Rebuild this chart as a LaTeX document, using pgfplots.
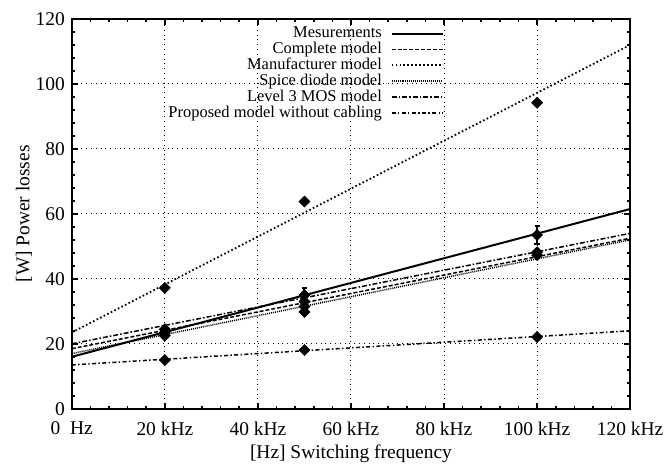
\documentclass[border=0pt]{standalone}
\usepackage{pgfplots}
\pgfplotsset{compat=1.18}
\usepackage{fontspec}
\setmainfont{Liberation Serif}
\begin{document}
\begin{tikzpicture}
\begin{axis}[
    name=ax,
    scale only axis,
    width=280pt, height=195.5pt,
    xmin=0, xmax=120, ymin=0, ymax=120,
    xtick={0,20,40,60,80,100,120},
    xticklabels={0\ \ Hz,20 kHz,40 kHz,60 kHz,80 kHz,100 kHz,120 kHz},
    ytick={0,20,40,60,80,100,120},
    minor x tick num=4, minor y tick num=4,
    tick align=inside,
    major tick length=3pt, minor tick length=1.6pt,
    every tick/.style={black, line width=0.8pt},
    axis line style={line width=1pt},
    xmajorgrids, ymajorgrids,
    grid style={black, dotted, line width=0.5pt},
    /pgf/number format/assume math mode=true,
    tick label style={font=\fontsize{9.75}{11}\selectfont},
    xticklabel style={yshift=-3pt},
    label style={font=\fontsize{9.75}{11}\selectfont},
    xlabel={[Hz] Switching frequency},
    ylabel={[W] Power losses},
    xlabel style={yshift=2pt},
    ylabel style={yshift=-5pt},
    legend plot pos=right,
    legend style={draw=none, fill=none, at={(0.668,0.982)}, anchor=north east,
        inner sep=0pt, nodes={inner sep=0.35pt},
        font=\fontsize{8.25}{9}\selectfont, cells={anchor=east}, row sep=0pt,
        column sep=4pt},
    legend image code/.code={\draw[#1] (0pt,0pt) -- (26pt,0pt);},
    dia/.style={forget plot, only marks, mark=square*, mark size=1.9pt,
        mark options={black, rotate=45}},
]
% fitted lines
\addplot[black, line width=1pt] coordinates {(0,16) (120,61.5)};
\addplot[black, line width=0.75pt, dash pattern=on 2pt off 1pt] coordinates {(0,18.5) (120,52.5)};
\addplot[black, line width=0.9pt, dash pattern=on 0.8pt off 1.2pt] coordinates {(0,23.5) (120,112)};
\addplot[black, line width=0.75pt, dash pattern=on 0.5pt off 0.5pt] coordinates {(0,17) (120,52)};
\addplot[black, line width=0.75pt, dash pattern=on 2.5pt off 1pt on 0.8pt off 1pt] coordinates {(0,20) (120,54)};
\addplot[black, line width=0.75pt, dash pattern=on 2pt off 1.2pt on 0.7pt off 1.2pt] coordinates {(0,13.5) (120,24)};
\legend{Mesurements,Complete model,Manufacturer model,Spice diode model,Level 3 MOS model,Proposed model without cabling}
% measured and simulated points
\addplot[dia,
    error bars/.cd, y dir=both, y explicit, error bar style={black, line width=1pt},
    error mark options={black, mark size=1.3pt, line width=1pt, rotate=90}]
    coordinates {(20,24.5) +- (0,1) (50,35) +- (0,2.3) (100,53.5) +- (0,2.8)};
\addplot[dia] coordinates {(20,37.2) (50,63.8) (100,94.2)};
\addplot[dia] coordinates {(20,23.5) (50,33) (100,48.2)};
\addplot[dia] coordinates {(20,22.5) (50,31.5) (100,47.3)};
\addplot[dia] coordinates {(50,29.8)};
\addplot[dia] coordinates {(20,15) (50,18.1) (100,22.1)};
\end{axis}
\path ([xshift=-36pt,yshift=-28.5pt]ax.south west) rectangle ([xshift=19pt,yshift=9.5pt]ax.north east);
\end{tikzpicture}
\end{document}
